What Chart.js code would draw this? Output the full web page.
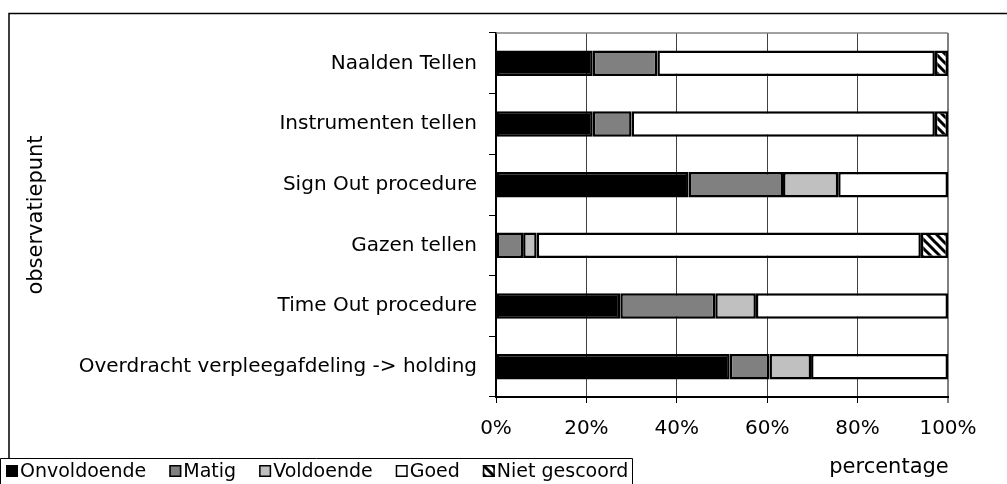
<!DOCTYPE html>
<html>
<head>
<meta charset="utf-8">
<script src="https://cdn.jsdelivr.net/npm/chart.js@4/dist/chart.umd.min.js"></script>
<style>
  html, body { margin: 0; padding: 0; background: #ffffff; }
  #wrap { width: 1007px; height: 484px; position: relative; }
</style>
</head>
<body>
<div id="wrap"><canvas id="c" width="1007" height="484"></canvas></div>
<script>
const categories = [
  'Naalden Tellen',
  'Instrumenten tellen',
  'Sign Out procedure',
  'Gazen tellen',
  'Time Out procedure',
  'Overdracht verpleegafdeling -> holding'
];
const onvoldoende  = [21.4, 21.4, 42.6, 0,    27.5, 51.7];
const matig        = [14.3, 8.6,  20.9, 6.0,  21.0, 8.8];
const voldoende    = [0,    0,    12.2, 3.0,  9.0,  9.2];
const goed         = [61.4, 67.1, 24.3, 85.0, 42.5, 30.3];
const nietGescoord = [2.9,  2.9,  0,    6.0,  0,    0];
const xTicks = [0, 20, 40, 60, 80, 100];
const yAxisTitle = 'observatiepunt';
const xAxisTitle = 'percentage';

const FONT = 'DejaVu Sans, Verdana, sans-serif';

function makeHatch() {
  const s = 9;
  const p = document.createElement('canvas');
  p.width = s; p.height = s;
  const g = p.getContext('2d');
  g.fillStyle = '#ffffff';
  g.fillRect(0, 0, s, s);
  g.strokeStyle = '#000000';
  g.lineWidth = 3;
  g.beginPath();
  g.moveTo(-s, 0); g.lineTo(s, 2 * s);
  g.moveTo(0, 0); g.lineTo(s, s);
  g.moveTo(0, -s); g.lineTo(2 * s, s);
  g.stroke();
  return document.getElementById('c').getContext('2d').createPattern(p, 'repeat');
}
const hatch = makeHatch();

const seriesDefs = [
  { label: 'Onvoldoende', data: onvoldoende, color: '#000000' },
  { label: 'Matig', data: matig, color: '#808080' },
  { label: 'Voldoende', data: voldoende, color: '#c0c0c0' },
  { label: 'Goed', data: goed, color: '#ffffff' },
  { label: 'Niet gescoord', data: nietGescoord, color: hatch }
];

const datasets = seriesDefs.map(s => ({
  label: s.label,
  data: s.data,
  backgroundColor: s.color,
  borderColor: '#000000',
  borderWidth: ctx => (ctx.raw ? 2.5 : 0),
  borderSkipped: false,
  categoryPercentage: 0.42,
  barPercentage: 1.0
}));

const decor = {
  id: 'decor',
  afterDraw(chart) {
    const c = chart.ctx;
    const a = chart.chartArea;
    c.save();
    // plot area grey border (top)
    c.strokeStyle = '#808080';
    c.lineWidth = 1.5;
    c.beginPath();
    c.moveTo(a.left, a.top); c.lineTo(a.right, a.top);
    c.stroke();
    // outer chart frame
    c.strokeStyle = '#000000';
    c.lineWidth = 1.5;
    c.beginPath();
    c.moveTo(9, 484); c.lineTo(9, 13.5); c.lineTo(1007, 13.5);
    c.stroke();
    // legend box
    c.fillStyle = '#ffffff';
    c.fillRect(0, 458, 632, 26);
    c.strokeStyle = '#000000';
    c.lineWidth = 1;
    c.beginPath();
    c.moveTo(0.5, 484); c.lineTo(0.5, 458.5); c.lineTo(632.5, 458.5); c.lineTo(632.5, 484);
    c.stroke();
    // legend items
    c.font = '19px ' + FONT;
    c.textBaseline = 'middle';
    c.textAlign = 'left';
    let x = 6;
    const yMid = 471;
    chart.data.datasets.forEach(ds => {
      c.fillStyle = ds.backgroundColor;
      c.fillRect(x, yMid - 6, 12, 12);
      c.strokeStyle = '#000000';
      c.lineWidth = 1.5;
      c.strokeRect(x + 0.75, yMid - 5.25, 10.5, 10.5);
      c.fillStyle = '#000000';
      c.fillText(ds.label, x + 14, yMid + 1);
      x += 14 + c.measureText(ds.label).width + 23;
    });
    // axis titles
    c.fillStyle = '#000000';
    c.font = '21px ' + FONT;
    c.textAlign = 'center';
    c.textBaseline = 'middle';
    c.fillText(xAxisTitle, 889, 468);
    c.save();
    c.translate(37, 215);
    c.rotate(-Math.PI / 2);
    c.fillText(yAxisTitle, 0, 0);
    c.restore();
    c.restore();
  }
};

new Chart(document.getElementById('c'), {
  type: 'bar',
  data: { labels: categories, datasets: datasets },
  options: {
    indexAxis: 'y',
    responsive: false,
    animation: false,
    devicePixelRatio: 1,
    layout: { padding: { left: 0, top: 33, right: 59, bottom: 0 } },
    plugins: { legend: { display: false }, tooltip: { enabled: false } },
    scales: {
      x: {
        stacked: true,
        min: 0, max: 100,
        afterBuildTicks: s => { s.ticks = xTicks.map(v => ({ value: v })); },
        afterFit: s => { s.height = 87; },
        ticks: {
          callback: v => v + '%',
          color: '#000000',
          font: { family: FONT, size: 20 },
          padding: 14,
          maxRotation: 0
        },
        grid: {
          color: ctx => (ctx.tick && ctx.tick.value === 100 ? '#808080' : '#404040'),
          lineWidth: ctx => (ctx.tick && ctx.tick.value === 100 ? 2 : 1),
          tickColor: '#000000',
          tickLength: 6,
          tickWidth: 1
        },
        border: { color: '#000000', width: 2 }
      },
      y: {
        stacked: true,
        afterFit: s => { s.width = 496; },
        ticks: {
          color: '#000000',
          font: { family: FONT, size: 20 },
          padding: 12
        },
        grid: {
          offset: true,
          drawOnChartArea: false,
          drawTicks: true,
          tickLength: 7,
          tickColor: '#000000',
          tickWidth: 1
        },
        border: { color: '#000000', width: 2 }
      }
    }
  },
  plugins: [decor]
});
</script>
</body>
</html>
